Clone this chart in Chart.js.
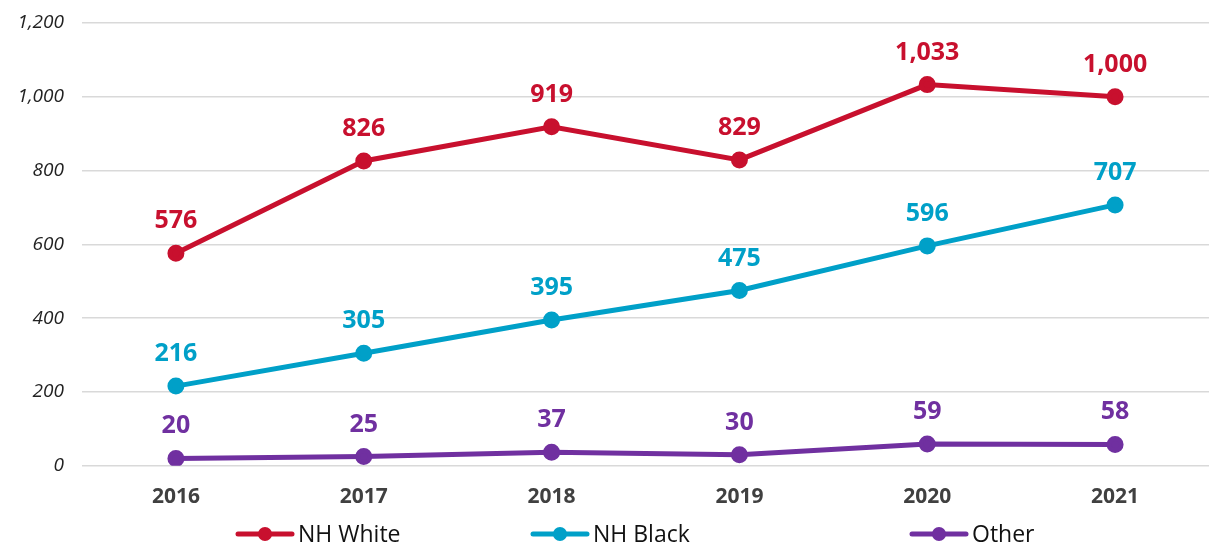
<!DOCTYPE html>
<html>
<head>
<meta charset="utf-8">
<script src="https://cdn.jsdelivr.net/npm/chart.js@4"></script>
<style>
  html, body { margin: 0; padding: 0; background: #fff; }
  #wrap { width: 1209px; height: 549px; position: relative; }
</style>
</head>
<body>
<div id="wrap"><canvas id="chart"></canvas></div>
<script>
const years = ["2016", "2017", "2018", "2019", "2020", "2021"];
const nhWhite = [576, 826, 919, 829, 1033, 1000];
const nhBlack = [216, 305, 395, 475, 596, 707];
const other = [20, 25, 37, 30, 59, 58];
const yTicks = [0, 200, 400, 600, 800, 1000, 1200];

const FONT = "'Open Sans', 'DejaVu Sans', sans-serif";

// value labels above each point
const pointLabels = {
  id: 'pointLabels',
  afterDatasetsDraw(chart) {
    const ctx = chart.ctx;
    ctx.save();
    ctx.font = "bold 25px " + FONT;
    ctx.textAlign = 'center';
    ctx.textBaseline = 'alphabetic';
    chart.data.datasets.forEach((ds, i) => {
      const meta = chart.getDatasetMeta(i);
      ctx.fillStyle = ds.borderColor;
      meta.data.forEach((pt, j) => {
        ctx.fillText(ds.data[j].toLocaleString('en-US'), pt.x, pt.y - 25);
      });
    });
    ctx.restore();
  }
};

// legend drawn by hand, items spread across the bottom like the original
const legendStarts = [238, 533, 912];
const bottomLegend = {
  id: 'bottomLegend',
  afterDraw(chart) {
    const ctx = chart.ctx;
    const y = chart.height - 15;
    ctx.save();
    ctx.font = "23px " + FONT;
    ctx.textBaseline = 'middle';
    ctx.textAlign = 'left';
    chart.data.datasets.forEach((ds, i) => {
      const x = legendStarts[i] * chart.width / 1209;
      ctx.strokeStyle = ds.borderColor;
      ctx.fillStyle = ds.borderColor;
      ctx.lineWidth = 5;
      ctx.lineCap = 'round';
      ctx.beginPath();
      ctx.moveTo(x, y);
      ctx.lineTo(x + 54, y);
      ctx.stroke();
      ctx.beginPath();
      ctx.arc(x + 27, y, 7, 0, Math.PI * 2);
      ctx.fill();
      ctx.fillStyle = '#111';
      ctx.fillText(ds.label, x + 60, y + 1);
    });
    ctx.restore();
  }
};

function series(label, data, color) {
  return {
    label: label,
    data: data,
    borderColor: color,
    backgroundColor: color,
    borderWidth: 5,
    pointRadius: 6,
    pointHoverRadius: 6,
    pointBackgroundColor: color,
    pointBorderColor: color,
    tension: 0
  };
}

new Chart(document.getElementById('chart').getContext('2d'), {
  type: 'line',
  data: {
    labels: years,
    datasets: [
      series('NH White', nhWhite, '#C8102E'),
      series('NH Black', nhBlack, '#00A0C8'),
      series('Other', other, '#7030A0')
    ]
  },
  options: {
    responsive: true,
    maintainAspectRatio: false,
    animation: false,
    layout: { autoPadding: false, padding: { top: 23, right: 0, left: 0, bottom: 28 } },
    scales: {
      x: {
        offset: true,
        grid: { display: false },
        border: { display: false },
        ticks: {
          color: '#404040',
          font: { family: FONT, size: 21, weight: 'bold' },
          padding: 11
        }
      },
      y: {
        min: 0,
        max: 1200,
        afterBuildTicks(axis) { axis.ticks = yTicks.map(v => ({ value: v })); },
        afterFit(axis) { axis.width = 82; },
        // invisible tick marks keep the gap between labels and grid
        grid: { color: '#d9d9d9', lineWidth: 1.5, drawTicks: true, tickLength: 13, tickColor: 'rgba(0,0,0,0)' },
        border: { display: false },
        ticks: {
          color: '#222',
          font: { family: FONT, size: 19, style: 'italic' },
          padding: 5,
          callback: v => v.toLocaleString('en-US')
        }
      }
    },
    plugins: {
      legend: { display: false },
      tooltip: { enabled: false }
    }
  },
  plugins: [pointLabels, bottomLegend]
});
</script>
</body>
</html>
